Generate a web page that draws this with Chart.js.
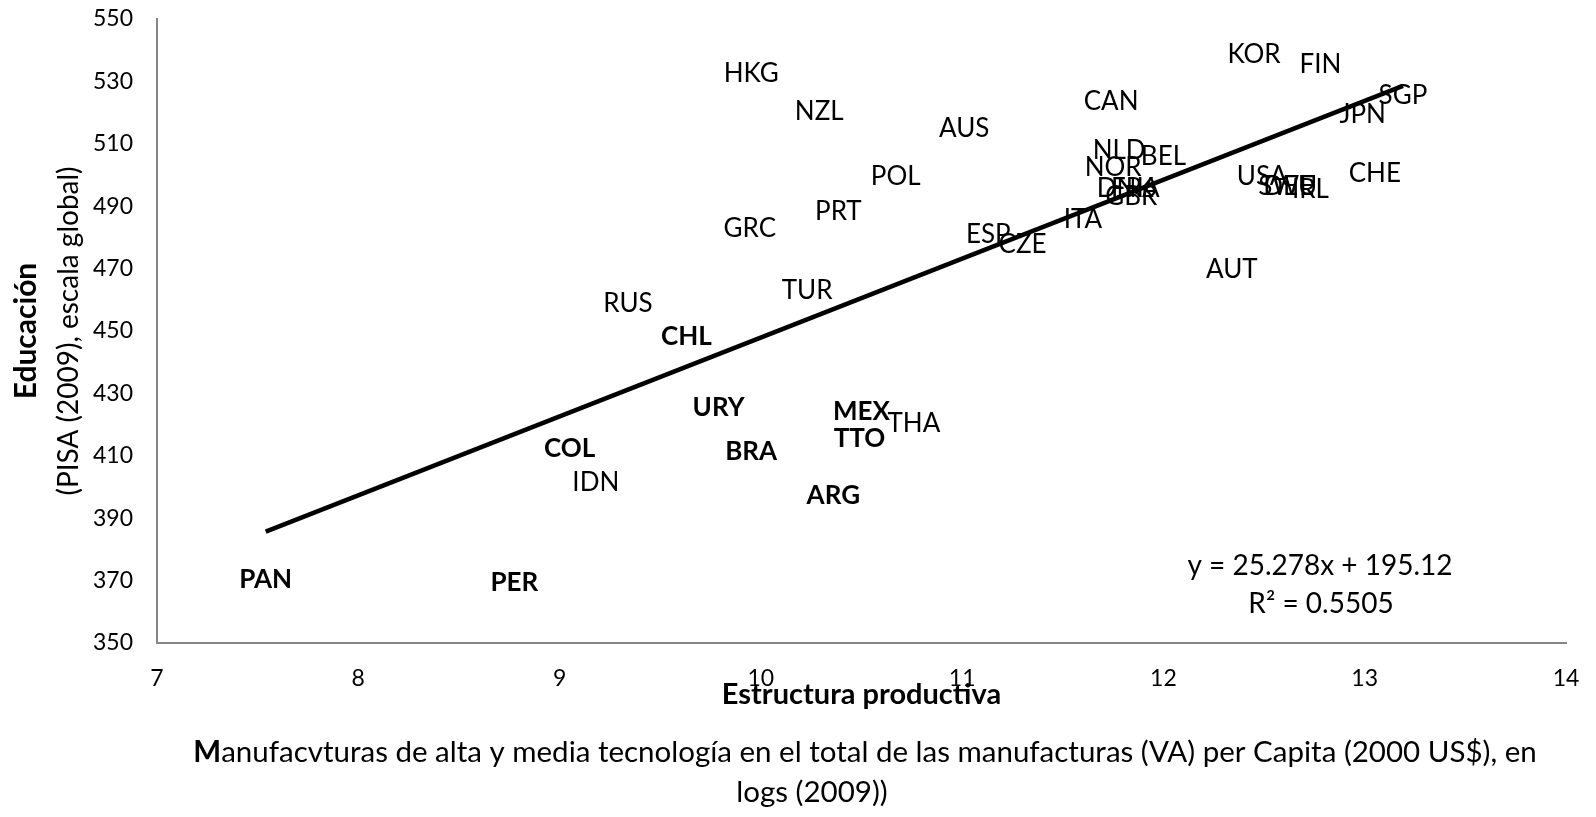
<!DOCTYPE html>
<html>
<head>
<meta charset="utf-8">
<script src="https://cdn.jsdelivr.net/npm/chart.js"></script>
<style>
  body { margin: 0; background: #fff; }
  #caja { width: 1596px; height: 817px; }
</style>
</head>
<body>
<div id="caja"><canvas id="grafico" width="1596" height="817"></canvas></div>
<script>
// Países (etiquetas de los puntos)
const paises = ["PAN", "PER", "COL", "IDN", "RUS", "CHL", "URY", "GRC", "HKG", "BRA",
  "TUR", "NZL", "ARG", "PRT", "TTO", "MEX", "POL", "THA", "AUS", "ESP",
  "CZE", "ITA", "CAN", "NOR", "NLD", "DNK", "FRA", "GBR", "BEL", "AUT",
  "KOR", "USA", "SWE", "DEU", "IRL", "FIN", "JPN", "CHE", "SGP"];

// Estructura productiva (logs)
const estructura = [7.54, 8.775, 9.05, 9.18, 9.34, 9.63, 9.79, 9.945, 9.952, 9.952,
  10.23, 10.29, 10.36, 10.385, 10.49, 10.50, 10.67, 10.76, 11.01, 11.13,
  11.30, 11.60, 11.74, 11.75, 11.78, 11.81, 11.86, 11.84, 12.0, 12.34,
  12.45, 12.49, 12.61, 12.63, 12.73, 12.78, 12.99, 13.05, 13.19];

// Educación, PISA 2009
const pisa = [370.2, 369.3, 412.4, 401.4, 458.9, 448.2, 425.5, 482.8, 532.6, 411.3,
  463.1, 520.3, 397.2, 488.2, 415.5, 424.1, 499.5, 420.4, 514.8, 480.8,
  477.6, 485.6, 523.5, 502.4, 507.7, 495.5, 495.5, 493, 505.9, 469.6,
  538.6, 499.6, 496.3, 496.3, 495.3, 535.3, 519.2, 500.5, 525.6];

// Países de América Latina y el Caribe, en negrita
const paisesNegrita = ["PAN", "PER", "COL", "CHL", "URY", "BRA", "ARG", "MEX", "TTO"];

// Línea de tendencia lineal (según la ecuación del gráfico)
const pendiente = 25.278;
const intercepto = 195.12;
const textoEcuacion = ["y = 25.278x + 195.12", "R² = 0.5505"];

const ticksX = [7, 8, 9, 10, 11, 12, 13, 14];
const ticksY = [350, 370, 390, 410, 430, 450, 470, 490, 510, 530, 550];

const fuente = "Lato, 'Open Sans', sans-serif";

let puntos = estructura.map((x, i) => ({ x: x, y: pisa[i] }));
let xMin = Math.min(...estructura);
let xMax = Math.max(...estructura);
let tendencia = [
  { x: xMin, y: pendiente * xMin + intercepto },
  { x: xMax, y: pendiente * xMax + intercepto }
];

// Plugin para escribir las etiquetas y los títulos
const etiquetas = {
  id: "etiquetas",
  afterDatasetsDraw(chart) {
    const ctx = chart.ctx;
    const sx = chart.scales.x;
    const sy = chart.scales.y;
    ctx.save();
    ctx.fillStyle = "#000";
    ctx.textAlign = "center";
    ctx.textBaseline = "middle";
    paises.forEach((p, i) => {
      let negrita = paisesNegrita.includes(p);
      ctx.font = (negrita ? "bold " : "") + "26px " + fuente;
      ctx.fillText(p, sx.getPixelForValue(estructura[i]), sy.getPixelForValue(pisa[i]));
    });

    // ecuación y R²
    ctx.font = "28px " + fuente;
    ctx.fillText(textoEcuacion[0], 1320, 566);
    ctx.fillText(textoEcuacion[1], 1321, 604);
    ctx.restore();
  },
  afterDraw(chart) {
    const ctx = chart.ctx;
    const area = chart.chartArea;
    ctx.save();
    ctx.fillStyle = "#000";
    ctx.textBaseline = "middle";
    ctx.textAlign = "center";

    // título eje X
    let cx = (area.left + area.right) / 2;
    ctx.font = "bold 29px " + fuente;
    ctx.fillText("Estructura productiva", cx, 695);

    // subtítulo con la M en negrita
    let parteB = "M";
    let parteN = "anufacvturas de alta y media tecnología en el total de las manufacturas (VA) per Capita (2000 US$), en";
    ctx.font = "bold 29.5px " + fuente;
    let wB = ctx.measureText(parteB).width;
    ctx.font = "29.5px " + fuente;
    let wN = ctx.measureText(parteN).width;
    let x0 = 865 - (wB + wN) / 2;
    ctx.textAlign = "left";
    ctx.font = "bold 29.5px " + fuente;
    ctx.fillText(parteB, x0, 752);
    ctx.font = "29.5px " + fuente;
    ctx.fillText(parteN, x0 + wB, 752);
    ctx.textAlign = "center";
    ctx.fillText("logs (2009))", 812, 792);

    // título eje Y
    let cy = (area.top + area.bottom) / 2;
    ctx.translate(26, cy);
    ctx.rotate(-Math.PI / 2);
    ctx.font = "bold 30px " + fuente;
    ctx.fillText("Educación", 0, 0);
    ctx.restore();

    ctx.save();
    ctx.fillStyle = "#000";
    ctx.textAlign = "center";
    ctx.textBaseline = "middle";
    ctx.translate(69, cy);
    ctx.rotate(-Math.PI / 2);
    ctx.font = "28px " + fuente;
    ctx.fillText("(PISA (2009), escala global)", 0, 0);
    ctx.restore();
  }
};

const ctx = document.getElementById("grafico").getContext("2d");
new Chart(ctx, {
  type: "scatter",
  data: {
    datasets: [
      {
        label: "Países",
        data: puntos,
        pointRadius: 0,
        pointHoverRadius: 0,
        showLine: false
      },
      {
        label: "Tendencia",
        data: tendencia,
        showLine: true,
        borderColor: "#000",
        borderWidth: 4.5,
        pointRadius: 0,
        fill: false
      }
    ]
  },
  options: {
    responsive: false,
    animation: false,
    layout: { padding: { left: 0, top: 19, right: 30, bottom: 0 } },
    plugins: {
      legend: { display: false },
      tooltip: { enabled: false }
    },
    scales: {
      x: {
        type: "linear",
        min: 7,
        max: 14,
        afterBuildTicks: (s) => { s.ticks = ticksX.map(v => ({ value: v })); },
        afterFit: (s) => { s.height = 817 - 643; s.paddingLeft = 0; s.paddingRight = 0; },
        grid: { display: false, drawTicks: false },
        border: { display: true, color: "#868686", width: 2 },
        ticks: { color: "#000", padding: 22, font: { family: fuente, size: 23 } }
      },
      y: {
        type: "linear",
        min: 350,
        max: 550,
        afterBuildTicks: (s) => { s.ticks = ticksY.map(v => ({ value: v })); },
        afterFit: (s) => { s.width = 157; s.paddingTop = 0; s.paddingBottom = 0; },
        grid: { display: false, drawTicks: false },
        border: { display: true, color: "#868686", width: 2 },
        ticks: { color: "#000", padding: 24, font: { family: fuente, size: 23 } }
      }
    }
  },
  plugins: [etiquetas]
});
</script>
</body>
</html>
